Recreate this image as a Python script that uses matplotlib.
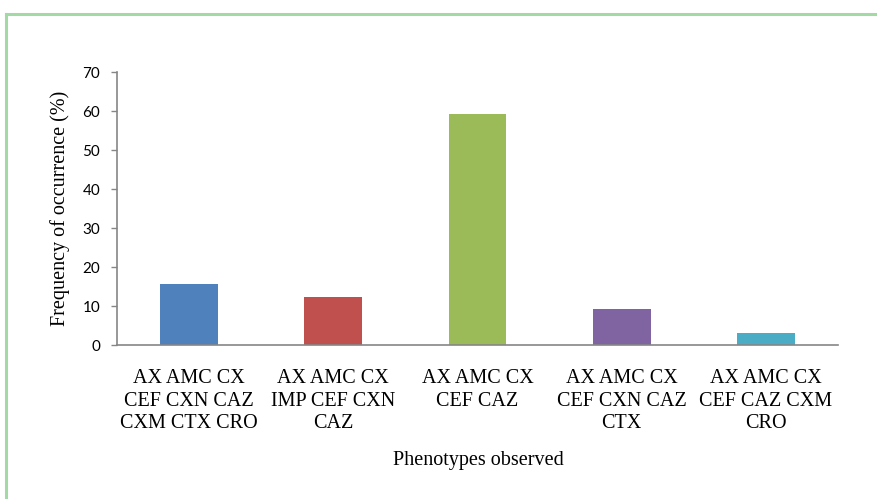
import matplotlib
matplotlib.use('Agg')
import matplotlib.pyplot as plt
from matplotlib.lines import Line2D

# Phenotype categories and frequency of occurrence (%)
phenotypes = [
    "AX AMC CX\nCEF CXN CAZ\nCXM CTX CRO",
    "AX AMC CX\nIMP CEF CXN\nCAZ",
    "AX AMC CX\nCEF CAZ",
    "AX AMC CX\nCEF CXN CAZ\nCTX",
    "AX AMC CX\nCEF CAZ CXM\nCRO",
]
frequency = [15.6, 12.3, 59.2, 9.2, 3.1]
bar_colors = ["#4F81BD", "#C0504D", "#9BBB59", "#8064A2", "#4BACC6"]
yticks = [0, 10, 20, 30, 40, 50, 60, 70]

fig = plt.figure(figsize=(8.77, 4.99), dpi=100)
ax = fig.add_axes([0.1334, 0.3086, 0.8221, 0.5471])

x = range(len(phenotypes))
ax.bar(x, frequency, width=0.4, color=bar_colors)

ax.set_xlim(-0.5, len(phenotypes) - 0.5)
ax.set_ylim(0, 70)
ax.set_yticks(yticks)
ax.set_yticklabels([str(t) for t in yticks], fontfamily="Lato", fontsize=11)
ax.set_xticks(list(x))
ax.set_xticklabels(phenotypes, fontfamily="Liberation Serif", fontsize=14.5, linespacing=1.28)
ax.tick_params(axis="x", length=0, pad=17)
ax.tick_params(axis="y", length=4, width=1, color="#868686", pad=8)

for side in ["top", "right"]:
    ax.spines[side].set_visible(False)
for side in ["left", "bottom"]:
    ax.spines[side].set_color("#868686")
    ax.spines[side].set_linewidth(1.2)

ax.set_ylabel("Frequency of occurrence (%)", fontfamily="Liberation Serif", fontsize=14.5, labelpad=9)
fig.text(0.545, 0.078, "Phenotypes observed", ha="center", va="center",
         fontfamily="Liberation Serif", fontsize=14.5)

# light green frame around the figure (top and left edges visible)
fig.add_artist(Line2D([0.007, 1.0], [1 - 14 / 499, 1 - 14 / 499], color="#A3D9A5", lw=2.2))
fig.add_artist(Line2D([0.007, 0.007], [0.0, 1 - 14 / 499], color="#A3D9A5", lw=2.2))

fig.savefig("out.png", dpi=100)
plt.close(fig)
